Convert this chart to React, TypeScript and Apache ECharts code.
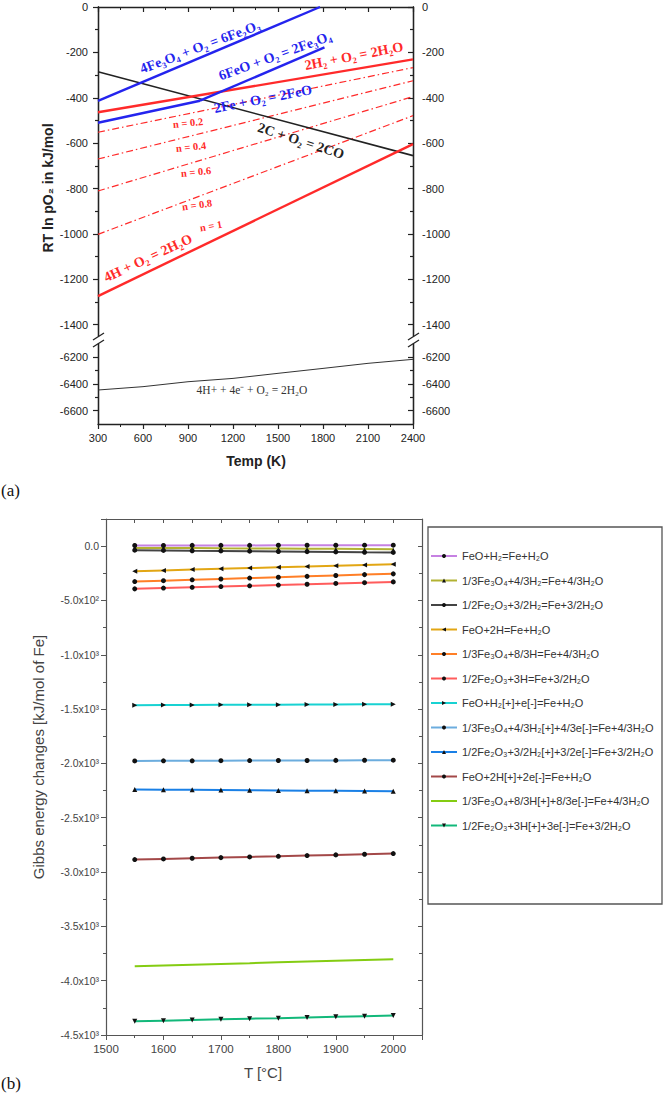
import { useEffect, useRef } from "react";
import * as echarts from "echarts";

// ---------- Panel (a): Ellingham-type lines, [T (K), RT ln pO2 (kJ/mol)] ----------
const fe3o4ToFe2o3 = [[300, -414], [1780, 0]];
const feToFeO = [[300, -510], [980, -413]];
const feoToFe3o4 = [[980, -413], [1810, -178]];
const h2ToH2o = [[300, -464], [2400, -231]];
const cToCo = [[300, -285], [2400, -655]];
const nPoint2 = [[300, -552], [2400, -267]];
const nPoint4 = [[300, -670], [2400, -325]];
const nPoint6 = [[300, -811], [2400, -395]];
const nPoint8 = [[300, -1002], [2400, -479]];
const hToH2o = [[300, -1274], [2400, -604]];
const protonTemps = [300, 600, 900, 1200, 1500, 1800, 2100, 2400];
const protonValues = [-6445, -6420, -6383, -6358, -6320, -6283, -6245, -6215];

const upperMajorTicks = [0, -200, -400, -600, -800, -1000, -1200, -1400];
const upperMinorTicks = [-100, -300, -500, -700, -900, -1100, -1300];
const lowerMajorTicks = [-6200, -6400, -6600];
const lowerMinorTicks = [-6300, -6500];

// ---------- Panel (b): Gibbs energy changes (kJ/mol of Fe) vs T (°C) ----------
const tempC = [1550, 1600, 1650, 1700, 1750, 1800, 1850, 1900, 1950, 2000];
const reactionNames = [
  "FeO+H₂=Fe+H₂O",
  "1/3Fe₃O₄+4/3H₂=Fe+4/3H₂O",
  "1/2Fe₂O₃+3/2H₂=Fe+3/2H₂O",
  "FeO+2H=Fe+H₂O",
  "1/3Fe₃O₄+8/3H=Fe+4/3H₂O",
  "1/2Fe₂O₃+3H=Fe+3/2H₂O",
  "FeO+H₂[+]+e[-]=Fe+H₂O",
  "1/3Fe₃O₄+4/3H₂[+]+4/3e[-]=Fe+4/3H₂O",
  "1/2Fe₂O₃+3/2H₂[+]+3/2e[-]=Fe+3/2H₂O",
  "FeO+2H[+]+2e[-]=Fe+H₂O",
  "1/3Fe₃O₄+8/3H[+]+8/3e[-]=Fe+4/3H₂O",
  "1/2Fe₂O₃+3H[+]+3e[-]=Fe+3/2H₂O",
];
const gFeO_H2 = [6, 6, 7, 7, 7, 8, 8, 8, 9, 9];
const gFe3O4_H2 = [-16, -17, -18, -20, -21, -22, -24, -25, -26, -28];
const gFe2O3_H2 = [-37, -39, -42, -44, -46, -49, -51, -53, -56, -58];
const gFeO_H = [-230, -223, -216, -209, -202, -195, -188, -180, -173, -166];
const gFe3O4_H = [-326, -318, -310, -302, -294, -286, -278, -270, -262, -255];
const gFe2O3_H = [-393, -386, -379, -372, -365, -358, -351, -343, -336, -329];
const gFeO_H2p = [-1464, -1463, -1462, -1461, -1460, -1459, -1458, -1457, -1456, -1455];
const gFe3O4_H2p = [-1977, -1976, -1976, -1975, -1974, -1973, -1973, -1972, -1971, -1970];
const gFe2O3_H2p = [-2240, -2242, -2243, -2245, -2247, -2249, -2251, -2252, -2254, -2256];
const gFeO_Hp = [-2885, -2879, -2873, -2867, -2861, -2855, -2848, -2842, -2836, -2830];
const gFe3O4_Hp = [-3867, -3860, -3853, -3846, -3839, -3831, -3824, -3817, -3810, -3803];
const gFe2O3_Hp = [-4374, -4368, -4362, -4356, -4350, -4345, -4339, -4333, -4327, -4321];

const reactionValues = [
  gFeO_H2, gFe3O4_H2, gFe2O3_H2, gFeO_H, gFe3O4_H, gFe2O3_H,
  gFeO_H2p, gFe3O4_H2p, gFe2O3_H2p, gFeO_Hp, gFe3O4_Hp, gFe2O3_Hp,
];

// styles for panel (b) series
const reactionStyles = [
  { color: "#c681e2", symbol: "circle", rotate: 0, size: 5 },
  { color: "#b2b232", symbol: "triangle", rotate: 0, size: 3 },
  { color: "#444444", symbol: "circle", rotate: 0, size: 5 },
  { color: "#e2a614", symbol: "triangle", rotate: 90, size: 5 },
  { color: "#ff7f27", symbol: "circle", rotate: 0, size: 5 },
  { color: "#ff5c5c", symbol: "circle", rotate: 0, size: 5 },
  { color: "#18d2d2", symbol: "triangle", rotate: -90, size: 5 },
  { color: "#6cadde", symbol: "circle", rotate: 0, size: 5 },
  { color: "#1a80e6", symbol: "triangle", rotate: 0, size: 5 },
  { color: "#a34848", symbol: "circle", rotate: 0, size: 5 },
  { color: "#84cc12", symbol: "none", rotate: 0, size: 0 },
  { color: "#12b87a", symbol: "triangle", rotate: 180, size: 5 },
];

const SANS = '"Liberation Sans", Arial, sans-serif';
const SERIF = '"Liberation Serif", "Times New Roman", serif';
const BLUE = "#2424ee";
const RED = "#ff2a2a";
const INK = "#222";
const GREY = "#555";

const SUP: Record<string, string> = {
  "0": "⁰", "1": "¹", "2": "²", "3": "³", "4": "⁴",
  "5": "⁵", "6": "⁶", "7": "⁷", "8": "⁸", "9": "⁹",
};
function sciLabel(v: number): string {
  if (v === 0) return "0.0";
  if (v > 0) return "";
  const e = Math.floor(Math.log10(Math.abs(v)) + 1e-9);
  const m = v / Math.pow(10, e);
  return m.toFixed(1) + "x10" + String(e).split("").map((c) => SUP[c] || c).join("");
}
const plain = (v: number) => String(v);

function yAxisA(
  gridIndex: number,
  position: "left" | "right",
  min: number,
  max: number,
  ticks: number[],
  len: number,
  labels: boolean
) {
  return {
    type: "value",
    gridIndex,
    position,
    min,
    max,
    axisLine: { show: true, onZero: false, lineStyle: { color: INK, width: 1.3 } },
    axisTick: {
      show: true,
      inside: position === "right",
      length: len,
      customValues: ticks,
      lineStyle: { color: INK, width: 1.2 },
    },
    axisLabel: labels
      ? {
          show: true,
          customValues: ticks,
          fontSize: 11,
          fontFamily: SANS,
          color: INK,
          margin: position === "left" ? 10 : 9,
          formatter: plain,
        }
      : { show: false },
    splitLine: { show: false },
  };
}

function lineA(data: number[][], color: string, width: number, type: any = "solid", grid = 0) {
  return {
    type: "line",
    xAxisIndex: grid === 0 ? 0 : 1,
    yAxisIndex: grid === 0 ? 0 : 4,
    data,
    symbol: "none",
    silent: true,
    lineStyle: { color, width, type },
    z: 3,
  };
}

function label(
  text: string,
  x: number,
  y: number,
  color: string,
  deg: number,
  size = 14,
  weight = "bold"
) {
  return {
    type: "text",
    x,
    y,
    rotation: (deg * Math.PI) / 180,
    z: 50,
    style: {
      text,
      fill: color,
      fontSize: size,
      fontFamily: SERIF,
      fontWeight: weight,
      align: "center",
      verticalAlign: "middle",
    },
  };
}

function seg(x1: number, y1: number, x2: number, y2: number) {
  return {
    type: "line",
    z: 60,
    shape: { x1, y1, x2, y2 },
    style: { stroke: INK, lineWidth: 1.3 },
  };
}

export default function App() {
  const ref = useRef<HTMLDivElement>(null);

  useEffect(() => {
    if (!ref.current) return;
    const chart = echarts.init(ref.current, undefined, { renderer: "svg" });

    const dashDot = [7, 3, 1.5, 3];

    const bAxisLine = { show: true, onZero: false, lineStyle: { color: GREY, width: 1.2 } };
    const bTick = { lineStyle: { color: GREY, width: 1 } };

    const option: any = {
      animation: false,
      backgroundColor: "#fff",
      grid: [
        { left: 98, top: 7, width: 315, height: 329 },
        { left: 98, top: 344, width: 315, height: 80 },
        { left: 106, top: 519, width: 316, height: 516 },
      ],
      xAxis: [
        {
          type: "value",
          gridIndex: 0,
          position: "top",
          min: 300,
          max: 2400,
          interval: 300,
          axisLine: { show: true, onZero: false, lineStyle: { color: INK, width: 1.3 } },
          axisTick: { show: true, inside: true, length: 5, lineStyle: { color: INK, width: 1.2 } },
          minorTick: { show: true, splitNumber: 2, length: 3, lineStyle: { color: INK, width: 1 } },
          axisLabel: { show: false },
          splitLine: { show: false },
        },
        {
          type: "value",
          gridIndex: 1,
          position: "bottom",
          min: 300,
          max: 2400,
          interval: 300,
          axisLine: { show: true, onZero: false, lineStyle: { color: INK, width: 1.3 } },
          axisTick: { show: true, length: 5, lineStyle: { color: INK, width: 1.2 } },
          minorTick: { show: true, splitNumber: 2, length: 3, lineStyle: { color: INK, width: 1 } },
          axisLabel: { fontSize: 11, fontFamily: SANS, color: INK, margin: 8, formatter: plain },
          splitLine: { show: false },
        },
        {
          type: "value",
          gridIndex: 2,
          position: "bottom",
          min: 1500,
          max: 2050,
          interval: 100,
          axisLine: bAxisLine,
          axisTick: { show: true, length: 5, ...bTick },
          minorTick: { show: true, splitNumber: 2, length: 3, ...bTick },
          axisLabel: {
            fontSize: 11.5,
            fontFamily: SANS,
            color: "#444",
            margin: 8,
            formatter: (v: number) => (v > 2000 ? "" : String(v)),
          },
          splitLine: { show: false },
        },
        {
          type: "value",
          gridIndex: 2,
          position: "top",
          min: 1500,
          max: 2050,
          interval: 100,
          axisLine: bAxisLine,
          axisTick: { show: true, inside: true, length: 4, ...bTick },
          minorTick: { show: true, splitNumber: 2, length: 4, ...bTick },
          axisLabel: { show: false },
          splitLine: { show: false },
        },
      ],
      yAxis: [
        yAxisA(0, "left", -1450, 0, upperMajorTicks, 5, true),
        yAxisA(0, "left", -1450, 0, upperMinorTicks, 3, false),
        yAxisA(0, "right", -1450, 0, upperMajorTicks, 5, true),
        yAxisA(0, "right", -1450, 0, upperMinorTicks, 3, false),
        yAxisA(1, "left", -6700, -6100, lowerMajorTicks, 5, true),
        yAxisA(1, "left", -6700, -6100, lowerMinorTicks, 3, false),
        yAxisA(1, "right", -6700, -6100, lowerMajorTicks, 5, true),
        yAxisA(1, "right", -6700, -6100, lowerMinorTicks, 3, false),
        {
          type: "value",
          gridIndex: 2,
          position: "left",
          min: -4500,
          max: 250,
          interval: 500,
          axisLine: bAxisLine,
          axisTick: { show: true, length: 5, ...bTick },
          minorTick: { show: true, splitNumber: 2, length: 3, ...bTick },
          axisLabel: {
            fontSize: 10.5,
            fontFamily: SANS,
            color: "#444",
            margin: 7,
            formatter: sciLabel,
          },
          splitLine: { show: false },
        },
        {
          type: "value",
          gridIndex: 2,
          position: "right",
          min: -4500,
          max: 250,
          interval: 500,
          axisLine: bAxisLine,
          axisTick: { show: true, inside: true, length: 4, ...bTick },
          minorTick: { show: true, splitNumber: 2, length: 3, ...bTick },
          axisLabel: { show: false },
          splitLine: { show: false },
        },
      ],
      legend: {
        orient: "vertical",
        left: 430,
        top: 549,
        padding: 0,
        itemWidth: 26,
        itemHeight: 5,
        itemGap: 10.5,
        selectedMode: false,
        data: reactionNames.map((name, i) =>
          reactionStyles[i].symbol === "none" ? { name, itemStyle: { opacity: 0 } } : { name }
        ),
        textStyle: { fontSize: 11, fontFamily: SANS, color: "#333", lineHeight: 14 },
      },
      series: [
        lineA(nPoint2, RED, 1.2, dashDot),
        lineA(nPoint4, RED, 1.2, dashDot),
        lineA(nPoint6, RED, 1.2, dashDot),
        lineA(nPoint8, RED, 1.2, dashDot),
        lineA(cToCo, INK, 1.6),
        lineA(h2ToH2o, RED, 2.4),
        lineA(hToH2o, RED, 2.4),
        lineA(fe3o4ToFe2o3, BLUE, 2.4),
        lineA(feToFeO, BLUE, 2.4),
        lineA(feoToFe3o4, BLUE, 2.4),
        lineA(
          protonTemps.map((t, i) => [t, protonValues[i]]),
          "#333",
          1,
          "solid",
          1
        ),
        ...reactionNames.map((name, i) => ({
          type: "line",
          name,
          xAxisIndex: 2,
          yAxisIndex: 8,
          data: tempC.map((t, j) => [t, reactionValues[i][j]]),
          symbol: reactionStyles[i].symbol,
          symbolSize: reactionStyles[i].size,
          symbolRotate: reactionStyles[i].rotate,
          showSymbol: reactionStyles[i].symbol !== "none",
          itemStyle: { color: "#111" },
          lineStyle: { color: reactionStyles[i].color, width: 2 },
          z: 3,
        })),
      ],
      graphic: [
        // panel (a) reaction labels
        label("4Fe₃O₄ + O₂ = 6Fe₂O₃", 200, 47, BLUE, 20.6),
        label("6FeO + O₂ = 2Fe₃O₄", 275, 56, BLUE, 20),
        label("2H₂ + O₂ = 2H₂O", 354, 56, RED, 11),
        label("2Fe + O₂ = 2FeO", 263, 99, BLUE, 11),
        label("2C + O₂ = 2CO", 301, 141, INK, -18),
        label("n = 0.2", 188, 123, RED, 6, 10.5),
        label("n = 0.4", 191, 147, RED, 6, 10.5),
        label("n = 0.6", 196, 172, RED, 6, 10.5),
        label("n = 0.8", 197, 205, RED, 8, 10.5),
        label("n = 1", 211, 226, RED, 10, 10.5),
        label("4H + O₂ = 2H₂O", 148, 258, RED, 25),
        label("4H+ + 4e⁻ + O₂ = 2H₂O", 252, 390, "#333", 0, 11.5, "normal"),
        // axis titles
        {
          type: "text",
          x: 48,
          y: 188,
          rotation: Math.PI / 2,
          style: {
            text: "RT ln pO₂ in kJ/mol",
            fill: INK,
            fontSize: 14,
            fontWeight: "bold",
            fontFamily: SANS,
            align: "center",
            verticalAlign: "middle",
          },
        },
        {
          type: "text",
          x: 256,
          y: 461,
          style: {
            text: "Temp (K)",
            fill: INK,
            fontSize: 14,
            fontWeight: "bold",
            fontFamily: SANS,
            align: "center",
            verticalAlign: "middle",
          },
        },
        {
          type: "text",
          x: 38,
          y: 757,
          rotation: Math.PI / 2,
          style: {
            text: "Gibbs energy changes [kJ/mol of Fe]",
            fill: "#444",
            fontSize: 15,
            fontFamily: SANS,
            align: "center",
            verticalAlign: "middle",
          },
        },
        {
          type: "text",
          x: 263,
          y: 1072,
          style: {
            text: "T [°C]",
            fill: "#444",
            fontSize: 15,
            fontFamily: SANS,
            align: "center",
            verticalAlign: "middle",
          },
        },
        // axis break marks
        seg(93, 340, 104, 333),
        seg(93, 347, 104, 340),
        seg(408, 340, 419, 333),
        seg(408, 347, 419, 340),
        // panel tags
        {
          type: "text",
          x: 1,
          y: 490,
          style: { text: "(a)", fill: "#111", fontSize: 17, fontFamily: SERIF, verticalAlign: "middle" },
        },
        {
          type: "text",
          x: 1,
          y: 1083,
          style: { text: "(b)", fill: "#111", fontSize: 17, fontFamily: SERIF, verticalAlign: "middle" },
        },
        // legend frame
        {
          type: "rect",
          shape: { x: 428, y: 527, width: 234, height: 377 },
          style: { fill: "none", stroke: GREY, lineWidth: 1.3 },
          z: 0,
        },
      ],
    };

    chart.setOption(option);
    return () => chart.dispose();
  }, []);

  return (
    <div
      ref={ref}
      style={{ position: "absolute", left: 0, top: 0, width: 664, height: 1096, background: "#fff" }}
    />
  );
}
